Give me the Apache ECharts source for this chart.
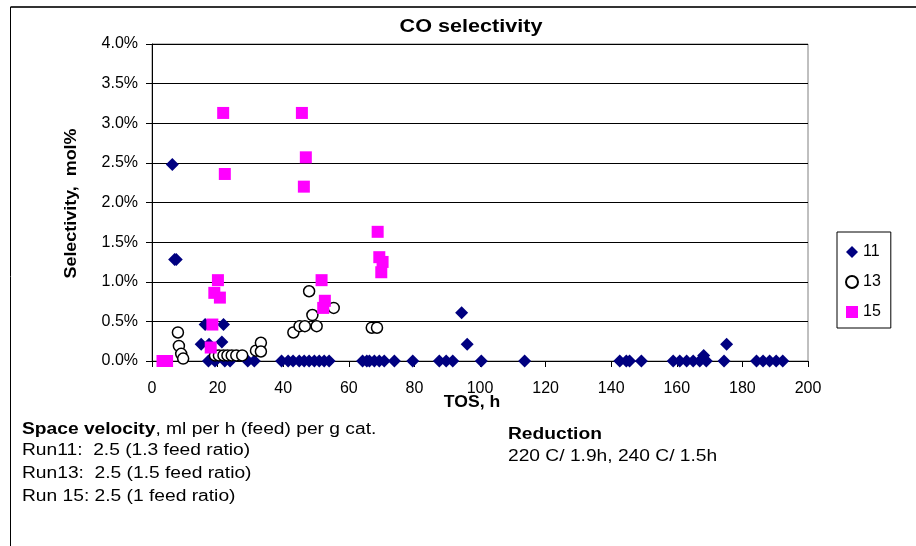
<!DOCTYPE html>
<html>
<head>
<meta charset="utf-8">
<script src="https://cdn.jsdelivr.net/npm/echarts@6/dist/echarts.min.js"></script>
<style>html,body{margin:0;padding:0;background:#fff}#c{width:916px;height:546px}</style>
</head>
<body>
<div id="c"></div>
<script>
// Data (TOS h, selectivity %)
var run11 = [
  [6.2,2.48],[6.9,1.28],[7.4,1.28],
  [15.0,0.21],[16.2,0.46],[17.4,0.21],[17.2,0],[19.2,0],[21.3,0.24],[21.8,0.46],[22.2,0],[23.8,0],[29.2,0],[31.2,0],
  [39.5,0],[41.5,0],[43.0,0],[44.9,0],[46.4,0],[47.9,0],[49.5,0],[51.0,0],[52.5,0],[54.0,0],
  [64.2,0],[65.5,0],[66.3,0],[67.8,0],[69.3,0],[70.8,0],[73.9,0],[79.5,0],
  [87.6,0],[89.7,0],[91.7,0],[94.4,0.61],[96.1,0.21],[100.4,0],[113.6,0],
  [142.6,0],[144.6,0],[145.6,0],[149.2,0],[158.9,0],[160.9,0],[163.0,0],[165.0,0],[167.0,0],[168.2,0.07],[169.0,0],
  [174.4,0],[175.2,0.21],[184.3,0],[186.3,0],[188.3,0],[190.3,0],[192.3,0]
];
var run13 = [
  [7.9,0.36],[8.2,0.19],[8.9,0.09],[9.5,0.03],
  [19.2,0.07],[20.4,0.07],[21.8,0.07],[23.0,0.07],[24.3,0.07],[25.7,0.07],[27.5,0.07],
  [31.7,0.13],[33.2,0.23],[33.2,0.12],
  [43.1,0.36],[45.0,0.44],[46.6,0.44],[47.9,0.88],[48.9,0.58],[50.2,0.44],[55.4,0.67],
  [67.0,0.42],[68.6,0.42]
];
var run15 = [
  [3.2,0],[4.6,0],
  [17.9,0.17],[18.4,0.46],[19.0,0.86],[20.1,1.02],[20.7,0.80],[21.7,3.13],[22.2,2.36],
  [45.7,3.13],[46.3,2.20],[46.9,2.57],
  [51.7,1.02],[52.2,0.67],[52.7,0.76],
  [68.8,1.63],[69.3,1.31],[69.9,1.12],[70.3,1.25]
];
var seriesNames = ['11','13','15'];
var xTicks = {min:0, max:200, interval:20};
var yTicks = {min:0, max:4, interval:0.5};

var FONT = '"Liberation Sans", Arial, sans-serif';
var SX = 1.2; // horizontal text stretch seen in the reference
function txt(x, y, text, opts){
  opts = opts || {};
  return {type:'text', x:x, y:y, scaleX:opts.sx || SX, rotation:opts.rot || 0, silent:true,
    style:{text:text, font:(opts.bold?'bold ':'')+(opts.size||16)+'px '+FONT, fill:'#000',
      align:opts.align||'left', verticalAlign:'middle', rich:opts.rich}};
}
var chart = echarts.init(document.getElementById('c'), null, {renderer:'canvas'});
chart.setOption({
  animation:false,
  backgroundColor:'#fff',
  grid:{left:152, right:108, top:44, bottom:185, show:true, borderColor:'#808080', borderWidth:1},
  legend:{
    orient:'vertical', left:837, top:232, width:52,
    data:seriesNames,
    borderColor:'#000', borderWidth:1, padding:[12,10,8,8],
    itemGap:14, itemWidth:12, itemHeight:12,
    textStyle:{fontFamily:FONT, fontSize:16, color:'#000'}
  },
  xAxis:{
    type:'value', min:xTicks.min, max:xTicks.max, interval:xTicks.interval,
    axisLine:{lineStyle:{color:'#000', width:1}},
    axisTick:{show:true, inside:false, length:6, lineStyle:{color:'#000'}},
    axisLabel:{fontFamily:FONT, fontSize:16, color:'#000', margin:20},
    splitLine:{show:false}
  },
  yAxis:{
    type:'value', min:yTicks.min, max:yTicks.max, interval:yTicks.interval,
    axisLine:{show:true, lineStyle:{color:'#000', width:1}},
    axisTick:{show:true, inside:false, length:6, lineStyle:{color:'#000'}},
    axisLabel:{fontFamily:FONT, fontSize:16, color:'#000', margin:14,
      formatter:function(v){return v.toFixed(1)+'%';}},
    splitLine:{show:true, lineStyle:{color:'#000', width:1}}
  },
  series:[
    {name:seriesNames[0], type:'scatter', data:run11, symbol:'diamond', symbolSize:13,
      itemStyle:{color:'#000080', opacity:1}},
    {name:seriesNames[1], type:'scatter', data:run13, symbol:'circle', symbolSize:11,
      itemStyle:{color:'#ffffff', borderColor:'#000', borderWidth:1.5, opacity:1}},
    {name:seriesNames[2], type:'scatter', data:run15, symbol:'rect', symbolSize:12,
      itemStyle:{color:'#ff00ff', opacity:1}}
  ],
  graphic:[
    {type:'line', shape:{x1:10.5,y1:7,x2:916,y2:7}, style:{stroke:'#333', lineWidth:2}, silent:true},
    {type:'line', shape:{x1:10.5,y1:7,x2:10.5,y2:546}, style:{stroke:'#000', lineWidth:1}, silent:true},
    txt(471, 27, 'CO selectivity', {bold:true, size:18, align:'center'}),
    txt(472, 403, 'TOS, h', {bold:true, size:16, align:'center', sx:1.1}),
    txt(72, 203.5, 'Selectivity,  mol%', {bold:true, size:16, align:'center', rot:Math.PI/2, sx:1.12}),
    txt(22, 430, '{b|Space velocity}, ml per h (feed) per g cat.', {size:16,
      rich:{b:{fontFamily:FONT, fontSize:16, fontWeight:'bold', fill:'#000'}}}),
    txt(22, 451, 'Run11:  2.5 (1.3 feed ratio)'),
    txt(22, 474, 'Run13:  2.5 (1.5 feed ratio)'),
    txt(22, 497, 'Run 15: 2.5 (1 feed ratio)'),
    txt(508, 435, 'Reduction', {bold:true}),
    txt(508, 457, '220 C/ 1.9h, 240 C/ 1.5h')
  ]
});
</script>
</body>
</html>
